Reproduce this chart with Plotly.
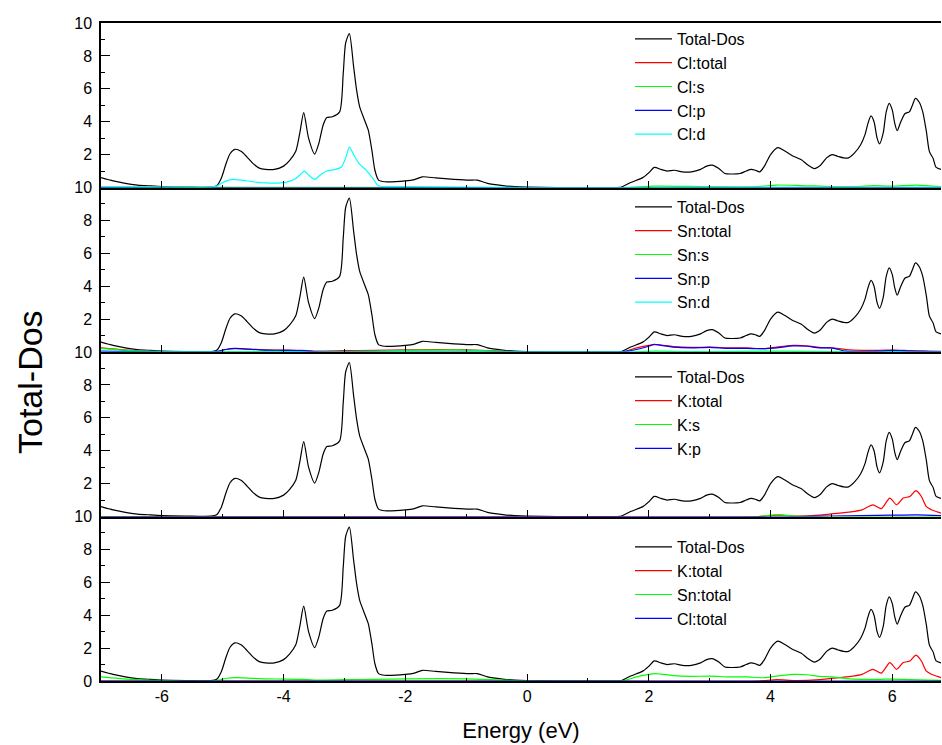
import plotly.graph_objects as go
from plotly.subplots import make_subplots

# ---------------- data ----------------
E_tot = [-7.0, -6.8, -6.6, -6.4, -6.2, -6.0, -5.6, -5.2, -5.1, -5.02, -4.95, -4.88, -4.8, -4.7,
         -4.6, -4.5, -4.4, -4.3, -4.15, -4.0, -3.9, -3.8, -3.73, -3.67, -3.59, -3.49, -3.42,
         -3.35, -3.29, -3.2, -3.08, -3.02, -2.98, -2.92, -2.85, -2.8, -2.75, -2.66, -2.61, -2.55,
         -2.5, -2.44, -2.34, -2.0, -1.85, -1.72, -1.5, -1.2, -0.95, -0.82, -0.65, -0.4, -0.2,
         0.0, 0.5, 1.0, 1.5, 1.55, 1.7, 1.9, 2.0, 2.09, 2.2, 2.3, 2.42, 2.55, 2.7, 2.85, 2.95,
         3.04, 3.15, 3.25, 3.35, 3.5, 3.6, 3.68, 3.75, 3.82, 3.9, 4.0, 4.12, 4.22, 4.35, 4.5,
         4.62, 4.72, 4.82, 4.92, 5.01, 5.1, 5.2, 5.28, 5.38, 5.48, 5.55, 5.6, 5.65, 5.7, 5.75,
         5.79, 5.85, 5.9, 5.95, 6.0, 6.04, 6.08, 6.14, 6.21, 6.28, 6.33, 6.38, 6.44, 6.5, 6.56,
         6.61, 6.67, 6.72, 6.8]
total_dos = [0.6, 0.4, 0.25, 0.15, 0.1, 0.06, 0.03, 0.02, 0.1, 0.6, 1.4, 2.05, 2.32, 2.2,
             1.85, 1.45, 1.18, 1.1, 1.1, 1.3, 1.65, 2.2, 3.4, 4.55, 3.0, 2.03, 2.7,
             3.8, 4.25, 4.3, 4.6, 6.95, 8.8, 9.35, 7.35, 5.9, 4.9, 4.0, 3.5, 2.27,
             1.05, 0.45, 0.35, 0.4, 0.48, 0.65, 0.58, 0.5, 0.45, 0.45, 0.25, 0.12, 0.05,
             0.02, 0.0, 0.0, 0.0, 0.02, 0.3, 0.6, 0.9, 1.22, 1.1, 1.0, 1.05, 0.95, 0.95, 1.1, 1.3,
             1.36, 1.15, 0.85, 0.82, 0.85, 1.0, 1.1, 1.05, 0.95, 1.3, 2.0, 2.42, 2.25, 1.95, 1.7,
             1.35, 1.15, 1.35, 1.8, 2.0, 1.9, 1.8, 1.8, 2.1, 2.6, 3.2, 3.9, 4.35, 4.0, 3.0,
             2.65, 3.3, 4.6, 5.12, 4.7, 3.9, 3.45, 4.0, 4.5, 4.6, 5.0, 5.42, 5.2, 4.6, 3.4,
             2.18, 1.77, 1.22, 1.1]

# Cl projections
E_cl_d = [-7.0, -6.0, -5.2, -5.1, -5.0, -4.9, -4.84, -4.7, -4.5, -4.3, -4.1, -3.95, -3.8, -3.72,
          -3.66, -3.6, -3.49, -3.4, -3.29, -3.15, -3.05, -2.98, -2.92, -2.85, -2.75, -2.64,
          -2.53, -2.45, -2.38, -2.0, -1.0, 0.0, 1.5, 3.0, 4.5, 6.0, 6.8]
cl_d = [0.05, 0.03, 0.02, 0.08, 0.3, 0.45, 0.49, 0.45, 0.35, 0.28, 0.27, 0.33, 0.55, 0.8,
        1.0, 0.8, 0.49, 0.75, 1.0, 1.1, 1.25, 1.8, 2.46, 2.0, 1.4, 1.04,
        0.53, 0.12, 0.06, 0.05, 0.03, 0.0, 0.0, 0.02, 0.03, 0.03, 0.02]
E_cl_s = [-7.0, -6.0, 0.0, 1.6, 2.1, 3.0, 3.8, 4.1, 4.5, 5.0, 5.4, 5.7, 6.0, 6.4, 6.8]
cl_s = [0.05, 0.02, 0.0, 0.0, 0.08, 0.05, 0.06, 0.15, 0.12, 0.06, 0.06, 0.12, 0.08, 0.15, 0.05]
E_zero = [-7.0, 6.8]
cl_total = [0.0, 0.0]
cl_p = [0.0, 0.0]

# Sn projections
E_sn = [-7.0, -6.5, -6.0, -5.2, -5.1, -4.95, -4.8, -4.6, -4.3, -4.0, -3.7, -3.5, -3.0, -2.5,
        -2.0, -1.0, 0.0, 1.5, 1.6, 1.8, 2.0, 2.09, 2.2, 2.4, 2.7, 3.0, 3.3, 3.6, 3.9, 4.1,
        4.36, 4.6, 4.8, 5.0, 5.24, 5.5, 5.8, 6.0, 6.3, 6.6, 6.8]
sn_p = [0.05, 0.02, 0.0, 0.0, 0.02, 0.15, 0.22, 0.18, 0.12, 0.1, 0.08, 0.03, 0.0, 0.0,
        0.0, 0.0, 0.0, 0.0, 0.02, 0.15, 0.35, 0.47, 0.4, 0.3, 0.25, 0.28, 0.22, 0.22, 0.2, 0.25,
        0.37, 0.35, 0.25, 0.25, 0.05, 0.03, 0.05, 0.1, 0.05, 0.03, 0.02]
sn_total = [0.25, 0.1, 0.03, 0.0, 0.03, 0.15, 0.2, 0.18, 0.13, 0.12, 0.1, 0.06, 0.08, 0.1,
            0.13, 0.13, 0.01, 0.0, 0.03, 0.25, 0.4, 0.45, 0.42, 0.33, 0.28, 0.3, 0.25, 0.25, 0.2, 0.3,
            0.4, 0.38, 0.28, 0.25, 0.15, 0.1, 0.1, 0.12, 0.08, 0.05, 0.04]
E_sn_s = [-7.0, -6.5, -6.0, -5.0, -4.8, -4.0, -3.0, -2.5, -2.0, -1.5, -1.0, -0.7, -0.3, 0.0,
          1.6, 2.1, 2.5, 3.0, 4.0, 5.0, 6.0, 6.8]
sn_s = [0.22, 0.08, 0.02, 0.01, 0.03, 0.02, 0.03, 0.05, 0.1, 0.12, 0.12, 0.08, 0.02, 0.0,
        0.0, 0.05, 0.03, 0.03, 0.05, 0.02, 0.02, 0.01]
sn_d = [0.0, 0.0]

# K projections
E_k = [-7.0, 0.0, 3.8, 4.1, 4.4, 4.8, 5.0, 5.32, 5.5, 5.68, 5.82, 5.96, 6.07, 6.18, 6.29,
       6.39, 6.48, 6.56, 6.65, 6.74, 6.8]
k_total = [0.0, 0.0, 0.0, 0.08, 0.03, 0.08, 0.16, 0.28, 0.4, 0.71, 0.48, 1.12, 0.71, 1.12, 1.22,
           1.57, 1.2, 0.6, 0.4, 0.28, 0.2]
E_k_s = [-7.0, 3.8, 4.1, 4.4, 5.0, 6.8]
k_s = [0.0, 0.0, 0.12, 0.02, 0.0, 0.0]
E_k_p = [-7.0, 4.5, 5.0, 5.5, 6.0, 6.4, 6.8]
k_p = [0.0, 0.0, 0.03, 0.05, 0.08, 0.1, 0.05]

x_tickvals = [-6, -4, -2, 0, 2, 4, 6]
x_ticktext = ["-6", "-4", "-2", "0", "2", "4", "6"]
y_tickvals = [0, 2, 4, 6, 8, 10]
y_ticktext_bottom = ["0", "2", "4", "6", "8", "10"]
# in the upper panels the "0" merges with the "10" of the panel below
y_ticktext_upper = ["", "2", "4", "6", "8", "10"]

# ---------------- layout geometry ----------------
W, H = 942, 745
L, R, T, B = 101, 941, 23, 681
FONT = "Liberation Sans, Arial, sans-serif"

def px_x(p):
    return (p - L) / (R - L)

def px_y(p):
    return (B - p) / (B - T)

BLACK, RED, GREEN, BLUE, CYAN = "#000000", "#ff0000", "#00ff00", "#0000ff", "#00ffff"

fig = make_subplots(rows=4, cols=1, shared_xaxes=True, vertical_spacing=0)

panels = [
    ("legend", [("Total-Dos", E_tot, total_dos, BLACK), ("Cl:total", E_zero, cl_total, RED),
                ("Cl:s", E_cl_s, cl_s, GREEN), ("Cl:p", E_zero, cl_p, BLUE),
                ("Cl:d", E_cl_d, cl_d, CYAN)]),
    ("legend2", [("Total-Dos", E_tot, total_dos, BLACK), ("Sn:total", E_sn, sn_total, RED),
                 ("Sn:s", E_sn_s, sn_s, GREEN), ("Sn:p", E_sn, sn_p, BLUE),
                 ("Sn:d", E_zero, sn_d, CYAN)]),
    ("legend3", [("Total-Dos", E_tot, total_dos, BLACK), ("K:total", E_k, k_total, RED),
                 ("K:s", E_k_s, k_s, GREEN), ("K:p", E_k_p, k_p, BLUE)]),
    ("legend4", [("Total-Dos", E_tot, total_dos, BLACK), ("K:total", E_k, k_total, RED),
                 ("Sn:total", E_sn, sn_total, GREEN), ("Cl:total", E_zero, cl_total, BLUE)]),
]

for i, (lg, series) in enumerate(panels):
    for name, xs, ys, col in series:
        fig.add_trace(go.Scatter(x=xs, y=ys, name=name, mode="lines", legend=lg,
                                 line=dict(color=col, width=1.2, shape="spline", smoothing=0.7)),
                      row=i + 1, col=1)

legend_tops = [22, 190, 360, 530]
common_legend = dict(font=dict(family=FONT, size=16, color="black"), bgcolor="rgba(0,0,0,0)",
                     borderwidth=0, xanchor="left", yanchor="top", itemwidth=37,
                     tracegroupgap=0, traceorder="normal")
for i, lg in enumerate(["legend", "legend2", "legend3", "legend4"]):
    fig.update_layout({lg: dict(common_legend, x=px_x(630), y=px_y(legend_tops[i]))})

for i in range(4):
    r = i + 1
    fig.update_xaxes(range=[-7.0, 6.8], tickvals=x_tickvals, ticktext=x_ticktext,
                     ticks="inside", ticklen=7, tickwidth=1.3, tickcolor="black",
                     minor=dict(dtick=1, tick0=0, ticks="inside", ticklen=3, tickwidth=1.3,
                                tickcolor="black"),
                     showline=True, linecolor="black", linewidth=1.5, showgrid=False,
                     zeroline=False, showticklabels=(r == 4), mirror=(r == 1),
                     tickfont=dict(family=FONT, size=16, color="black"), row=r, col=1)
    fig.update_yaxes(range=[0, 10], tickvals=y_tickvals,
                     ticktext=(y_ticktext_bottom if r == 4 else y_ticktext_upper),
                     ticks="inside", ticklen=9, tickwidth=1.3, tickcolor="black",
                     minor=dict(dtick=1, tick0=0, ticks="inside", ticklen=4, tickwidth=1.3,
                                tickcolor="black"),
                     showline=True, linecolor="black", linewidth=1.5, showgrid=False,
                     zeroline=False, ticklabelstandoff=4,
                     tickfont=dict(family=FONT, size=16, color="black"), row=r, col=1)

fig.update_xaxes(title=dict(text="Energy (eV)", font=dict(family=FONT, size=22, color="black"),
                            standoff=19), row=4, col=1)

fig.add_annotation(text="Total-Dos", textangle=-90, xref="paper", yref="paper",
                   x=px_x(30), y=px_y(382), xanchor="center", yanchor="middle",
                   showarrow=False, font=dict(family=FONT, size=34, color="black"))

fig.update_layout(width=W, height=H, margin=dict(l=L, r=W - R, t=T, b=H - B),
                  paper_bgcolor="white", plot_bgcolor="white", showlegend=True,
                  font=dict(family=FONT, color="black"))

fig.write_html("out.html", config={"displayModeBar": False},
               post_script="document.body.style.margin='0';document.body.style.overflow='hidden';")
